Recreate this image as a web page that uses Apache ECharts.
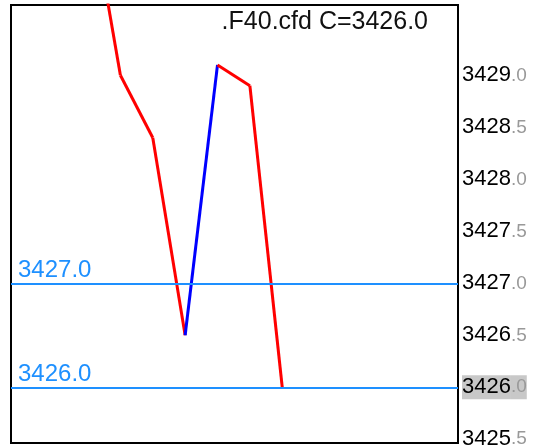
<!DOCTYPE html>
<html>
<head>
<meta charset="utf-8">
<script src="https://cdn.jsdelivr.net/npm/echarts@6/dist/echarts.min.js"></script>
<style>
html,body{margin:0;padding:0;background:#fff;}
#chart{width:535px;height:445px;}
</style>
</head>
<body>
<div id="chart"></div>
<script>
// ---- data ----
var symbolName = '.F40.cfd';
var barIndex = [0, 1, 2, 3, 4, 5, 6];
var closeValues = [3430.8, 3429.0, 3428.4, 3426.5, 3429.1, 3428.9, 3426.0];
var levelLines = [3427.0, 3426.0];
var tickLabels = [3425.5, 3426.0, 3426.5, 3427.0, 3427.5, 3428.0, 3428.5, 3429.0];

var UP_COLOR = '#0000ff';
var DOWN_COLOR = '#ff0000';
var LEVEL_COLOR = '#1e90ff';
var FONT = '"Liberation Sans", Arial, sans-serif';

var lastClose = closeValues[closeValues.length - 1];

var series = [];
for (var i = 0; i < closeValues.length - 1; i++) {
  var rising = closeValues[i + 1] > closeValues[i];
  series.push({
    type: 'line',
    data: [[barIndex[i], closeValues[i]], [barIndex[i + 1], closeValues[i + 1]]],
    symbol: 'none',
    silent: true,
    animation: false,
    clip: true,
    lineStyle: { color: rising ? UP_COLOR : DOWN_COLOR, width: 3 },
    z: 3
  });
}
series[0].markLine = {
  silent: true,
  symbol: 'none',
  animation: false,
  lineStyle: { color: LEVEL_COLOR, width: 2, type: 'solid' },
  label: {
    position: 'insideStartTop',
    distance: [7, 1],
    color: LEVEL_COLOR,
    fontSize: 24,
    fontFamily: FONT,
    formatter: function (p) { return Number(p.value).toFixed(1); }
  },
  data: levelLines.map(function (v) { return { yAxis: v }; })
};

var chart = echarts.init(document.getElementById('chart'), null, { renderer: 'canvas' });
chart.setOption({
  animation: false,
  backgroundColor: '#ffffff',
  title: {
    text: symbolName + ' C=' + lastClose.toFixed(1),
    right: 107,
    top: 10,
    padding: 0,
    textStyle: { fontSize: 25, fontWeight: 'normal', color: '#111', fontFamily: FONT }
  },
  grid: {
    left: 11, right: 77, top: 5, bottom: 2,
    outerBoundsMode: 'none',
    containLabel: false,
    show: true, borderColor: '#000', borderWidth: 2, backgroundColor: '#fff'
  },
  xAxis: {
    type: 'value',
    min: -2.38, max: 11.43,
    show: false
  },
  yAxis: {
    type: 'value',
    position: 'right',
    min: 3425.464, max: 3429.676,
    splitNumber: 8,
    minInterval: 0.5, maxInterval: 0.5,
    scale: true,
    axisLine: { show: true, onZero: false, lineStyle: { color: '#000', width: 2 } },
    axisTick: { show: false },
    splitLine: { show: false },
    axisLabel: {
      margin: 4,
      showMinLabel: true, showMaxLabel: true,
      formatter: function (v) {
        var hit = tickLabels.some(function (t) { return Math.abs(t - v) < 1e-6; });
        if (!hit) return '';
        var s = v.toFixed(1);
        var parts = s.split('.');
        if (Math.abs(v - lastClose) < 1e-6) {
          return '{ha|' + parts[0] + '}{hb|.' + parts[1] + '}';
        }
        return '{a|' + parts[0] + '}{b|.' + parts[1] + '}';
      },
      rich: {
        a: { fontSize: 22, color: '#000', fontFamily: FONT, lineHeight: 24 },
        b: { fontSize: 19, color: '#999', fontFamily: FONT, lineHeight: 24 },
        ha: { fontSize: 22, color: '#000', fontFamily: FONT, lineHeight: 24, height: 24, backgroundColor: '#c8c8c8' },
        hb: { fontSize: 19, color: '#999', fontFamily: FONT, lineHeight: 24, height: 24, backgroundColor: '#c8c8c8' }
      }
    }
  },
  series: series
});
</script>
</body>
</html>
